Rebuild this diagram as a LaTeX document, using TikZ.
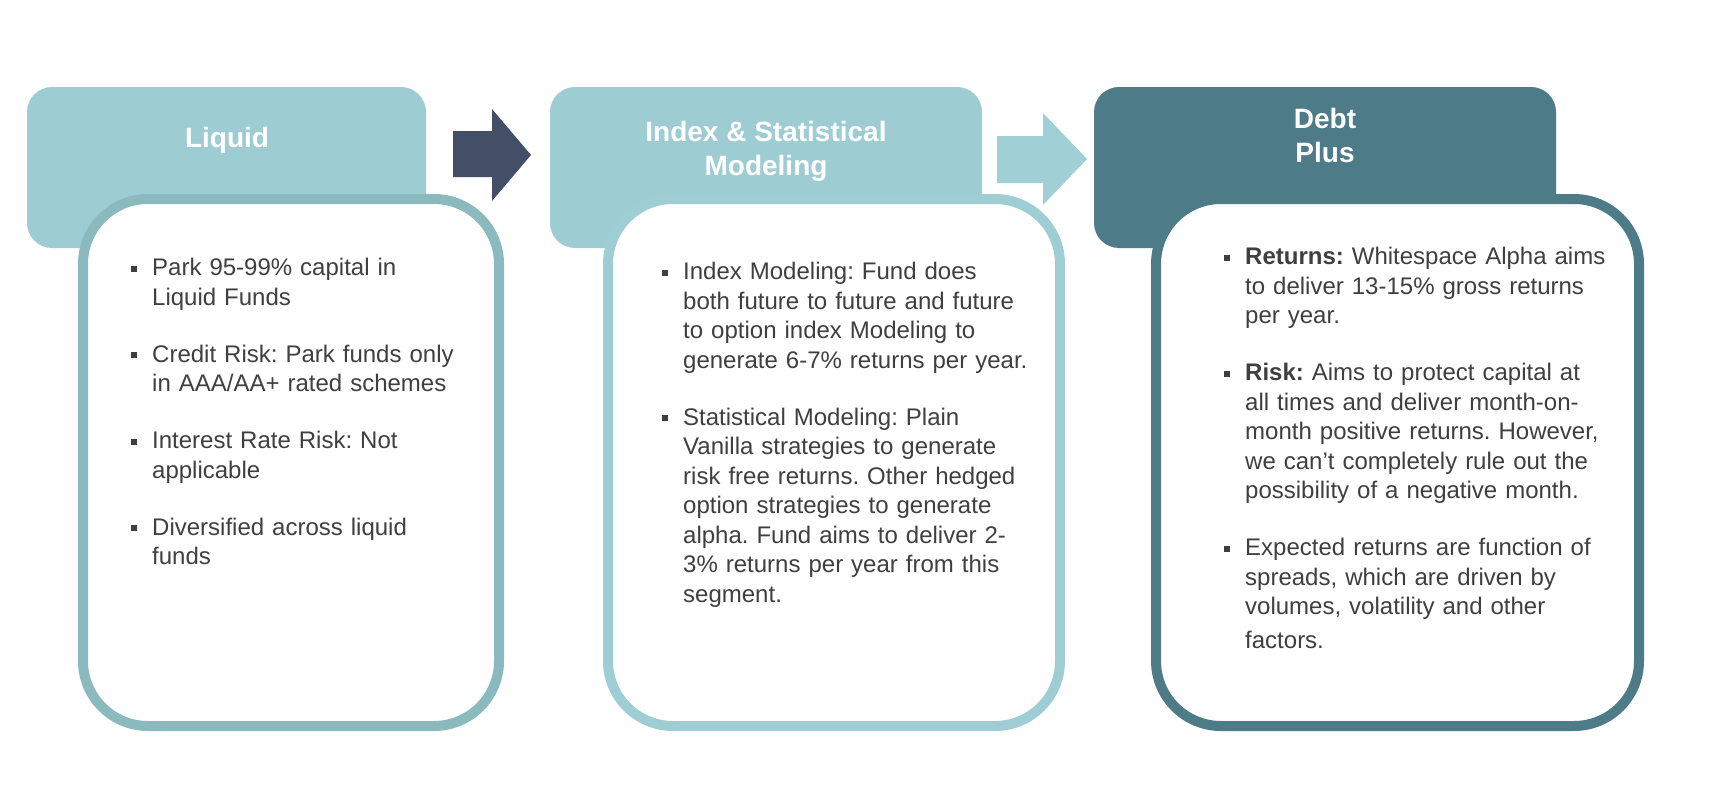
\documentclass[tikz,border=0pt]{standalone}
\usepackage{fontspec}
\setmainfont{Liberation Sans}
\usepackage{enumitem}
\usetikzlibrary{positioning}
\definecolor{headlight}{HTML}{9ECCD3}
\definecolor{ringlight}{HTML}{8AB9BE}
\definecolor{ringmid}{HTML}{9ECDD4}
\definecolor{headdark}{HTML}{4E7B88}
\definecolor{arrowdark}{HTML}{434F66}
\definecolor{arrowlight}{HTML}{A0CFD6}
\definecolor{textgray}{HTML}{3F3F3F}
\frenchspacing
\newcommand{\sqbullet}{\raisebox{4pt}{\rule{6pt}{6pt}}}
\setlist[itemize]{label=\sqbullet, leftmargin=22pt, labelwidth=7pt, labelsep=15pt,
  itemsep=27.5pt, parsep=0pt, topsep=0pt, partopsep=0pt}
\tikzset{
  headbox/.style={rounded corners=25pt},
  bodybox/.style={fill=white, line width=10pt, rounded corners=65pt},
  headtext/.style={text=white, font=\fontsize{28}{34}\selectfont\bfseries, align=center},
  bodytext/.style={anchor=north west, inner sep=0pt, text width=#1, align=left,
    text=textgray, font=\fontsize{24}{29.5}\selectfont}
}

\begin{document}
\begin{tikzpicture}[x=1pt, y=-1pt]
        \useasboundingbox (0,0) rectangle (1736,800);
        % headers
        \fill[headlight, headbox] (27,87) rectangle (426,248);
        \fill[headlight, headbox] (550,87) rectangle (982,248);
        \fill[headdark, headbox] (1094,87) rectangle (1556,248);

        % bodies
        \draw[ringlight, bodybox] (83,199) rectangle (499,726);
        \draw[ringmid, bodybox] (608,199) rectangle (1060,726);
        \draw[headdark, bodybox] (1156,199) rectangle (1639,726);

        % arrows between the stages
        \fill[arrowdark] (453,131) -- (492,131) -- (492,109) -- (531,155)
            -- (492,201) -- (492,177) -- (453,177) -- cycle;
        \fill[arrowlight] (997,136) -- (1043,136) -- (1043,113) -- (1087,159)
            -- (1043,205) -- (1043,183) -- (997,183) -- cycle;

        \node[headtext] at (227,140) (nliq) {Liquid};
        \node[headtext] at (766,151) (nidx) {Index \& Statistical\\ Modeling};
        \node[headtext] at (1325,135) (ndebt) {Debt\\ Plus};

        \node[bodytext=360pt] at (130,246) (nliqtxt) {%
            \begin{itemize}
            \item Park 95-99\% capital in\newline Liquid Funds
            \item Credit Risk: Park funds only\newline in AAA/AA+ rated schemes
            \item Interest Rate Risk: Not\newline applicable
            \item Diversified across liquid\newline funds
            \end{itemize}};
        \node[bodytext=395pt] at (661,250) (nidxtxt) {%
            \begin{itemize}
            \item Index Modeling: Fund does\newline both future to future and future\newline
                to option index Modeling to\newline generate 6-7\% returns per year.
            \item Statistical Modeling: Plain\newline Vanilla strategies to generate\newline
                risk free returns. Other hedged\newline option strategies to generate\newline
                alpha. Fund aims to deliver 2-\newline 3\% returns per year from this\newline segment.
            \end{itemize}};
        \node[bodytext=405pt] at (1223,235) (ndebttxt) {%
            \begin{itemize}
            \item \textbf{Returns:} Whitespace Alpha aims\newline to deliver 13-15\% gross returns\newline per year.
            \item \textbf{Risk:} Aims to protect capital at\newline all times and deliver month-on-\newline
                month positive returns. However,\newline we can’t completely rule out the\newline
                possibility of a negative month.
            \item Expected returns are function of\newline spreads, which are driven by\newline
                volumes, volatility and other\\[4pt] factors.
            \end{itemize}};
    \end{tikzpicture}
\end{document}
